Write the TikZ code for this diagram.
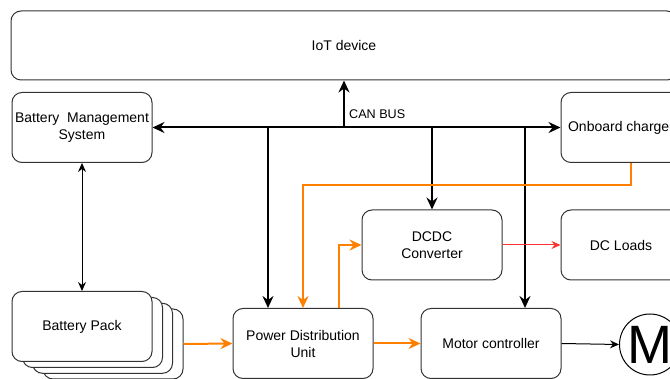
\documentclass[tikz,border=0pt]{standalone}
\usepackage{fontspec}
\setmainfont{Liberation Sans}
\usetikzlibrary{arrows.meta}
\definecolor{power}{HTML}{FF8000}
\definecolor{lowv}{HTML}{FF3333}
\definecolor{edge}{HTML}{333333}
\tikzset{
  box/.style={draw=edge, line width=1pt, rounded corners=10pt, fill=white,
    minimum width=140pt, minimum height=70pt, inner sep=0pt, align=center,
    font=\fontsize{14pt}{17pt}\selectfont},
  bus/.style={line width=2pt, black},
  pwr/.style={line width=2pt, power},
  thin/.style={line width=1pt, black},
  bigtip/.tip={Stealth[length=12pt, width=11pt, inset=4pt]},
  smalltip/.tip={Stealth[length=9pt, width=8pt, inset=3pt]},
}
\begin{document}
\begin{tikzpicture}[x=1pt, y=-1pt]
\clip (0,0) rectangle (670,379);
\useasboundingbox (0,0) rectangle (670,379);

% top-level controller
\node[box, minimum width=666pt, minimum height=69pt] (iot) at (344,45.5) {IoT device};

% management and charging
\node[box] (bms) at (82,127.5) {Battery\ \ Management\\System};
\node[box, minimum width=120pt] (obc) at (621,127.5) {Onboard charger};

% conversion and loads
\node[box] (dcdc) at (432,245) {DCDC\\Converter};
\node[box, minimum width=120pt] (dcl) at (621,245) {DC Loads};

% stacked battery modules, back to front
\node[box] (pack4) at (113,344) {};
\node[box] (pack3) at (102.5,338.3) {};
\node[box] (pack2) at (92.5,332.5) {};
\node[box] (pack) at (82,326.5) {Battery Pack};

% drive train
\node[box] (pdu) at (303,343.5) {Power Distribution\\Unit};
\node[box] (mc) at (491,343.5) {Motor controller};
\node[draw=black, line width=1pt, circle, minimum size=61pt, inner sep=0pt, fill=white] (motor) at (650,344.5) {};
\node[font=\fontsize{54pt}{54pt}\selectfont, inner sep=0pt] (mlabel) at (650,344.5) {M};

% CAN bus
\draw[bus, bigtip-bigtip] (bms.east) -- (obc.west |- bms.east);
\coordinate (j0) at (344,127);
\coordinate (j1) at (268,127);
\coordinate (j2) at (432,127);
\coordinate (j3) at (525,127);
\draw[bus, -bigtip] (j0) -- (iot.south -| j0);
\node[anchor=west, font=\fontsize{12.6pt}{14pt}\selectfont, inner sep=0pt] (canlabel) at (349,114) {CAN BUS};
\draw[bus, -bigtip] (j1) -- (j1 |- pdu.north);
\draw[bus, -bigtip] (j2) -- (dcdc.north);
\draw[bus, -bigtip] (j3) -- (j3 |- mc.north);

% power paths
\coordinate (c1) at (631,185);
\coordinate (c2) at (303,185);
\coordinate (p1) at (339,308.5);
\draw[pwr, -bigtip] (obc.south -| c1) -- (c1) -- (c2) -- (c2 |- pdu.north);
\draw[pwr, -bigtip] (p1) |- (dcdc.west);
\draw[pwr, -bigtip] (pack4.east) -- (pdu.west);
\draw[pwr, -bigtip] (pdu.east) -- (mc.west);

% signal and low-voltage lines
\draw[line width=1pt, lowv, -smalltip] (dcdc.east) -- (dcl.west);
\draw[thin, -smalltip] (mc.east) -- (motor.west);
\draw[thin, smalltip-smalltip] (bms.south) -- (pack.north);
\end{tikzpicture}
\end{document}
